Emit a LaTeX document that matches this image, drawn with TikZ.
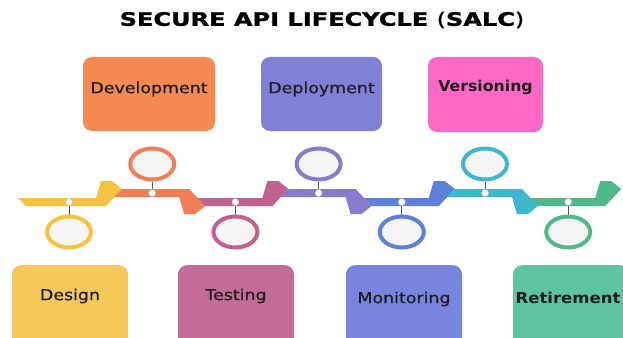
\documentclass[tikz,border=0pt]{standalone}
\usepackage{fontspec}
\setmainfont{DejaVu Sans}
\newfontfamily\salcLabelFont{DejaVu Sans}[FakeBold=0.7]
\newfontfamily\salcTitleFont{DejaVu Sans Bold}[FakeBold=1.2]
\usepackage{graphicx}
\usetikzlibrary{positioning, calc, shapes.geometric}
% band / ring colours
\definecolor{salcYellow}{HTML}{F5C242}
\definecolor{salcOrange}{HTML}{F07F55}
\definecolor{salcPink}{HTML}{C2618E}
\definecolor{salcPurple}{HTML}{8A7ACB}
\definecolor{salcBlue}{HTML}{5E80DC}
\definecolor{salcTeal}{HTML}{3DB6CE}
\definecolor{salcGreen}{HTML}{50B98B}
% box colours
\definecolor{boxDesign}{HTML}{F5C85C}
\definecolor{boxDevel}{HTML}{F48A52}
\definecolor{boxTest}{HTML}{C46C97}
\definecolor{boxDeploy}{HTML}{7F80D6}
\definecolor{boxMonitor}{HTML}{7885DE}
\definecolor{boxVersion}{HTML}{FF69C5}
\definecolor{boxRetire}{HTML}{5EC3A0}
\newcommand{\wideText}[2][1.16]{\scalebox{#1}[1]{#2}}

\begin{document}
\begin{tikzpicture}[x=1pt, y=-1pt,
  stagebox/.style={rounded corners=9pt, minimum width=116pt, minimum height=74pt, inner sep=0pt},
  stagetext/.style={font=\fontsize{15}{16}\salcLabelFont, text=black!88, inner sep=0pt},
  ring/.style={ellipse, draw=#1, line width=4pt, fill=gray!8, minimum width=44pt, minimum height=31pt, inner sep=0pt},
  joint/.style={circle, fill=white, draw=gray!45, line width=0.5pt, minimum size=7pt, inner sep=0pt},
  stem/.style={draw=gray!70!black, line width=1pt}]
  \useasboundingbox (0,0) rectangle (623,337);
  \clip (0,0) rectangle (623,337);

  \node[inner sep=0pt, font=\fontsize{18.5}{20}\salcTitleFont] (title) at (322,20)
    {\wideText[1.3]{SECURE API LIFECYCLE {\fontsize{18.5}{20}\salcLabelFont(}SALC{\fontsize{18.5}{20}\salcLabelFont)}}};

  % stage boxes
  \node[stagebox, fill=boxDevel, minimum width=132pt] (develBox) at (149,94) {};
  \node[stagebox, fill=boxDeploy, minimum width=121pt] (deployBox) at (321.5,94) {};
  \node[stagebox, fill=boxVersion, minimum width=115pt, minimum height=75pt] (versionBox) at (485.5,94.5) {};
  \node[stagebox, fill=boxDesign, anchor=north, minimum height=90pt] (designBox) at (70,265) {};
  \node[stagebox, fill=boxTest, anchor=north, minimum height=90pt] (testBox) at (236,265) {};
  \node[stagebox, fill=boxMonitor, anchor=north, minimum height=90pt] (monitorBox) at (404,265) {};
  \node[stagebox, fill=boxRetire, anchor=north, minimum height=90pt] (retireBox) at (571,265) {};

  \node[stagetext] (develTxt) at (149,89) {\wideText{Development}};
  \node[stagetext] (deployTxt) at (321.5,89) {\wideText{Deployment}};
  \node[stagetext, font=\fontsize{15}{16}\selectfont\bfseries] (versionTxt) at (485.5,87) {\wideText[1.05]{Versioning}};
  \node[stagetext] (designTxt) at (70,296) {\wideText{Design}};
  \node[stagetext] (testTxt) at (236,296) {\wideText{Testing}};
  \node[stagetext] (monitorTxt) at (404,299) {\wideText{Monitoring}};
  \node[stagetext, font=\fontsize{15}{16}\selectfont\bfseries] (retireTxt) at (568,298) {\wideText[1.1]{Retirement}};

  % zig-zag band, one chevron segment per stage
  \foreach \k/\col in {0/salcYellow, 1/salcOrange, 2/salcPink, 3/salcPurple, 4/salcBlue, 5/salcTeal, 6/salcGreen} {
    \pgfmathsetmacro\T{122+83.2*\k}
    \pgfmathsetmacro\S{ifthenelse(\k==0, 26, \T-83.2)}
    \pgfmathsetmacro\M{\T-53}
    \ifodd\k
      \fill[\col] (\S,189) -- (\T-16,189) -- (\T,206) -- (\T-10,214) -- (\T-21,214) -- (\T-26,197) -- (\S-8,197) -- cycle;
      \node[ring=\col] (ring\k) at (\M,164) {};
      \node[joint] (joint\k) at (\M,193) {};
    \else
      \fill[\col] (\S,206) -- (\T-16,206) -- (\T,189) -- (\T-10,181) -- (\T-21,181) -- (\T-26,198) -- (\S-8,198) -- cycle;
      \node[ring=\col] (ring\k) at (\M,232) {};
      \node[joint] (joint\k) at (\M,202) {};
    \fi
    \draw[stem] (joint\k) -- (ring\k);
  }
\end{tikzpicture}
\end{document}
